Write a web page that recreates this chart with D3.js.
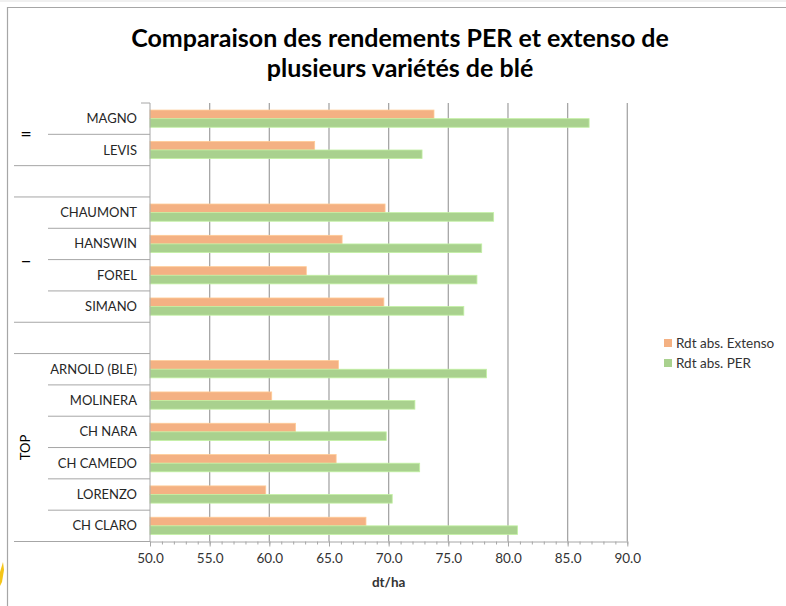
<!DOCTYPE html>
<html>
<head>
<meta charset="utf-8">
<script src="https://cdn.jsdelivr.net/npm/d3@7"></script>
<style>
  body { margin: 0; background: #ffffff; }
  text { font-family: Lato, "Liberation Sans", sans-serif; }
</style>
</head>
<body>
<div id="canvas"></div>
<script>
"use strict"

// Excel order: first category is drawn at the bottom
let varieties = ["CH CLARO", "LORENZO", "CH CAMEDO", "CH NARA", "MOLINERA", "ARNOLD (BLE)",
                 "",
                 "SIMANO", "FOREL", "HANSWIN", "CHAUMONT",
                 "",
                 "LEVIS", "MAGNO"];
let rdtExtenso = [68.1, 59.7, 65.6, 62.2, 60.2, 65.8, null, 69.6, 63.1, 66.1, 69.7, null, 63.8, 73.8];
let rdtPer     = [80.8, 70.3, 72.6, 69.8, 72.2, 78.2, null, 76.3, 77.4, 77.8, 78.8, null, 72.8, 86.8];
let groupNames = ["TOP", "", "\u2013", "", "="];
let groupSizes = [6, 1, 4, 1, 2];
let seriesNames = ["Rdt abs. Extenso", "Rdt abs. PER"];
let seriesColors = ["#f4b183", "#a9d18e"];
let xTicks = [50, 55, 60, 65, 70, 75, 80, 85, 90];

let drawingWidth = 786;
let drawingHeight = 606;

let plotLeft = 150;
let plotRight = 627.3;
let plotTop = 103;
let plotBottom = 541.5;

let drawing = d3.select("#canvas")
    .append("svg")
    .attr("width", drawingWidth)
    .attr("height", drawingHeight);

drawing.append("rect")
    .attr("width", drawingWidth)
    .attr("height", drawingHeight)
    .attr("fill", "white");

drawing.append("rect")
    .attr("width", drawingWidth)
    .attr("height", 2)
    .attr("fill", "#f0f0f0");

// small yellow mark at the bottom-left edge of the screenshot
drawing.append("path")
    .attr("d", "M0,586 L0,572 L3,562 L4,570 L2,582 Z")
    .attr("fill", "#f5c518");

// chart frame (only top and left edges are visible)
drawing.append("path")
    .attr("d", `M7.5,${drawingHeight} V7.5 H${drawingWidth}`)
    .attr("fill", "none")
    .attr("stroke", "#a6a6a6")
    .attr("stroke-width", 1.2);

// title
let title = drawing.append("text")
    .attr("x", 400)
    .attr("y", 47)
    .attr("text-anchor", "middle")
    .attr("font-size", 25)
    .attr("font-weight", "bold")
    .attr("fill", "#000");
title.append("tspan").attr("x", 400).text("Comparaison des rendements PER et extenso de");
title.append("tspan").attr("x", 400).attr("dy", 30).text("plusieurs variétés de blé");

// scales
let rows = d3.range(varieties.length).reverse(); // top row = last category
let x = d3.scaleLinear().domain([50, 90]).range([plotLeft, plotRight]);
let y = d3.scaleBand().domain(rows).range([plotTop, plotBottom]).padding(0);
let step = y.step();
let inner = d3.scaleBand().domain([0, 1])
    .range([step * 0.225, step * 0.775]).padding(0);

// gridlines
drawing.append("g")
    .selectAll("line")
    .data(xTicks.slice(1))
    .join("line")
    .attr("x1", d => x(d))
    .attr("x2", d => x(d))
    .attr("y1", plotTop)
    .attr("y2", plotBottom)
    .attr("stroke", "#a6a6a6")
    .attr("stroke-width", 1.3);

// bars
let series = [rdtExtenso, rdtPer];
series.forEach((values, s) => {
    drawing.append("g")
        .selectAll("rect")
        .data(values.map((v, i) => ({ i: i, v: v })).filter(d => d.v !== null))
        .join("rect")
        .attr("x", x(50))
        .attr("y", d => y(d.i) + inner(s))
        .attr("width", d => x(d.v) - x(50))
        .attr("height", inner.bandwidth())
        .attr("fill", seriesColors[s])
        .attr("stroke", d3.color(seriesColors[s]).brighter(0.4))
        .attr("stroke-width", 0.8);
});

// bottom value axis: minor and major ticks
let minorAxis = drawing.append("g")
    .attr("transform", `translate(0,${plotBottom})`)
    .call(d3.axisBottom(x).tickValues(d3.range(50, 91, 1)).tickSize(3).tickFormat(""));
minorAxis.select(".domain").remove();

let majorAxis = drawing.append("g")
    .attr("transform", `translate(0,${plotBottom})`)
    .call(d3.axisBottom(x).tickValues(xTicks).tickSize(5).tickSizeOuter(0)
        .tickFormat(d3.format(".1f")));
majorAxis.selectAll("text")
    .attr("font-size", 13.5)
    .attr("fill", "#333")
    .attr("dy", "1.0em");
drawing.selectAll(".tick line, .domain").attr("stroke", "#a6a6a6");

drawing.append("text")
    .attr("x", (plotLeft + plotRight) / 2)
    .attr("y", 587)
    .attr("text-anchor", "middle")
    .attr("font-size", 13.5)
    .attr("font-weight", "bold")
    .attr("fill", "#333")
    .text("dt/ha");

// category axis line
drawing.append("line")
    .attr("x1", plotLeft).attr("x2", plotLeft)
    .attr("y1", plotTop).attr("y2", plotBottom)
    .attr("stroke", "#a6a6a6");

drawing.append("line")
    .attr("x1", 141).attr("x2", plotLeft)
    .attr("y1", plotTop).attr("y2", plotTop)
    .attr("stroke", "#a6a6a6");

// category labels
drawing.append("g")
    .selectAll("text")
    .data(rows)
    .join("text")
    .attr("x", 137)
    .attr("y", d => y(d) + step / 2)
    .attr("dy", "0.35em")
    .attr("text-anchor", "end")
    .attr("font-size", 13)
    .attr("fill", "#262626")
    .text(d => varieties[d]);

// separators between rows; full width at group borders
let groupEnds = d3.cumsum(groupSizes);
let borders = d3.range(0, varieties.length).map(i => ({
    i: i,
    full: i === 0 || groupEnds.includes(i)
}));
drawing.append("g")
    .selectAll("line")
    .data(borders)
    .join("line")
    .attr("x1", d => d.full ? 14 : 48)
    .attr("x2", plotLeft)
    .attr("y1", d => y(d.i) + step)
    .attr("y2", d => y(d.i) + step)
    .attr("stroke", "#a6a6a6");

// group labels
let groupStarts = [0].concat(Array.from(groupEnds).slice(0, -1));
groupNames.forEach((name, g) => {
    if (!name) return;
    let first = groupStarts[g];
    let last = groupEnds[g] - 1;
    let cy = (y(first) + step + y(last)) / 2;
    let label = drawing.append("text")
        .attr("font-size", name === "TOP" ? 13 : 20)
        .attr("fill", "#000")
        .attr("text-anchor", "middle")
        .text(name);
    if (name === "TOP") {
        label.attr("transform", `translate(30,${cy}) rotate(-90)`);
    } else {
        label.attr("x", 26).attr("y", cy).attr("dy", "0.35em");
    }
});

// legend
let legend = drawing.append("g");
seriesNames.forEach((name, s) => {
    let ly = 343 + s * 20;
    legend.append("rect")
        .attr("x", 664)
        .attr("y", ly - 4)
        .attr("width", 8)
        .attr("height", 8)
        .attr("fill", seriesColors[s]);
    legend.append("text")
        .attr("x", 676)
        .attr("y", ly)
        .attr("dy", "0.35em")
        .attr("font-size", 13.5)
        .attr("fill", "#333")
        .text(name);
});
</script>
</body>
</html>
